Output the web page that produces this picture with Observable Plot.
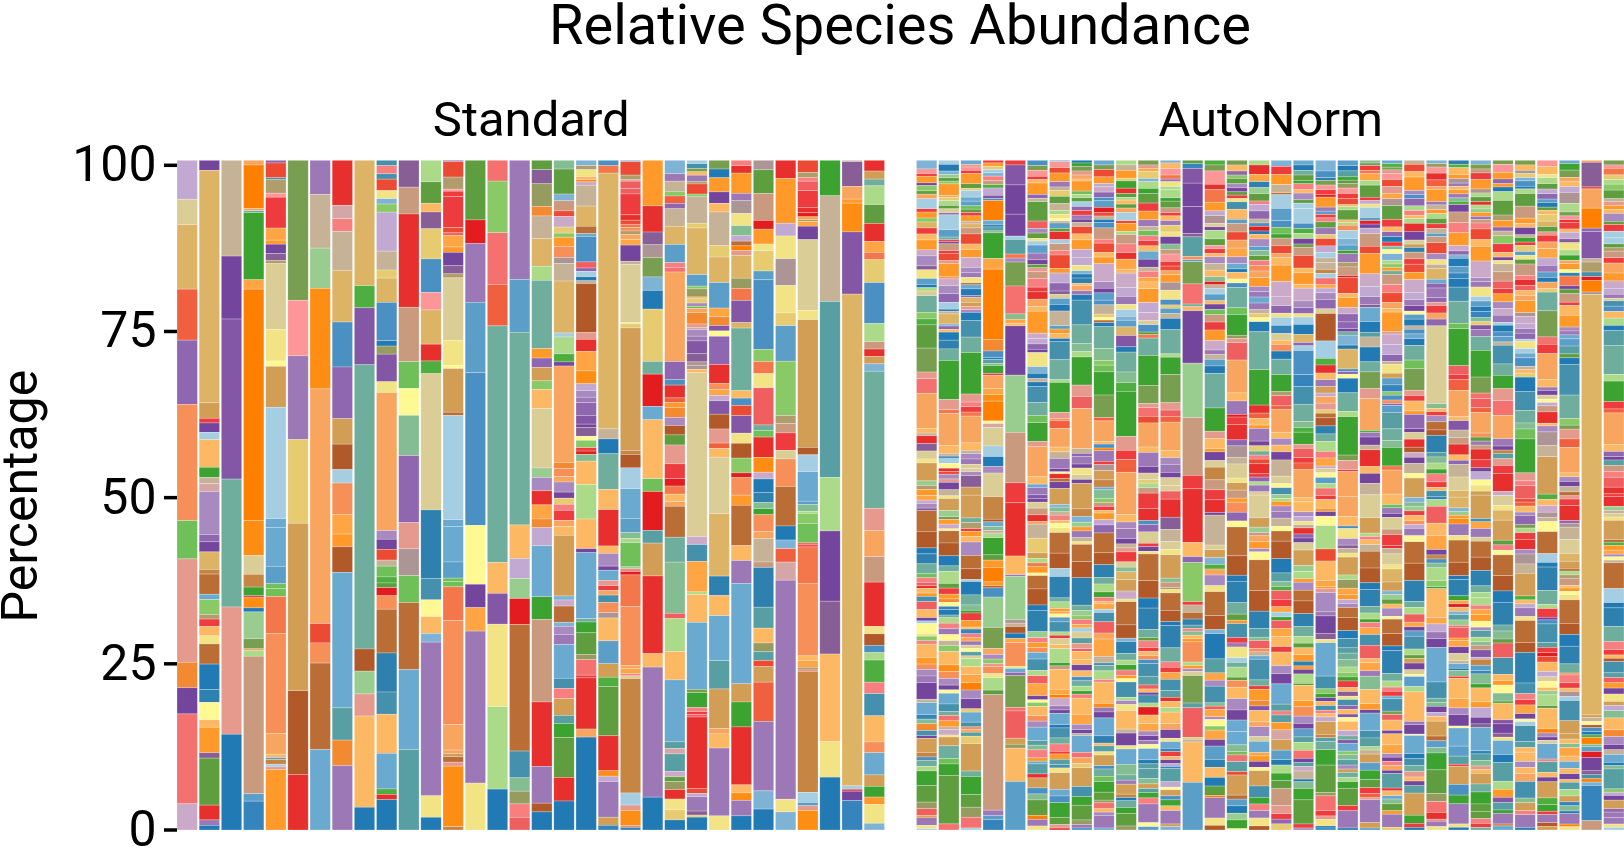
<!DOCTYPE html>
<html>
<head>
<meta charset="utf-8">
<script src="https://cdn.jsdelivr.net/npm/d3@7"></script>
<script src="https://cdn.jsdelivr.net/npm/@observablehq/plot@0.6"></script>
<style>
html,body{margin:0;padding:0;background:#fff;overflow:hidden}
h1{margin:0;height:60px;font:400 56px/50px Roboto,sans-serif;text-align:center;padding-left:176px;box-sizing:border-box;color:#000}
svg{font-family:Roboto,sans-serif;display:block}
</style>
</head>
<body>
<h1>Relative Species Abundance</h1>
<div id="chart"></div>
<script>
const panels = ["Standard", "AutoNorm"];
const species = "abcdefghijklmnopqrstuvwxyzABCDEFGHIJKLMNOPQRSTUVWXYZ0123456789".split("");
const speciesColors = ["#a6cee3","#7fb3d5","#6baad0","#5b9fc9","#4a90c2","#3584bb","#217ab4","#2e80ae","#4590ac","#589fa3","#6fae9d","#85bd93","#99cc8f","#abdb88","#89c966","#70c05a","#4fae40","#3ca230","#5e9e3f","#789e4f","#969c5f","#b09d6c","#c99a7d","#e59a8d","#f4716f","#f87f7f","#fd9696","#f05f5f","#ee3c3e","#e7302d","#e31c1f","#ec4a33","#f0603f","#f4764b","#f78f58","#f8a560","#fdb863","#ffa544","#ff9a2a","#fe8d14","#ff8000","#f38a32","#c1a9d1","#cba9c8","#a98ac0","#9c78b6","#8f66b0","#8357a5","#74459c","#875f96","#ae9595","#c5b297","#dbcd96","#e6cb70","#f2e384","#fff994","#ddb465","#d29e55","#c68543","#ba6e36","#b15928","#d5a6a6"];
const yTicks = [0, 25, 50, 75, 100];

// Each bar reads from its top segment down: species code, then percent.
const standardBars = [
"Q5.8 03.8 49.6 G7.6 U9.6 I17.3 p5.7 x15.4 P3.8 W3.9 y13.4 R3.9",
"W1.5 434.6 52.3 C.7 W1.4 a1.1 K4.1 r1.5 Z.9 91.2 S6.4 U1.1 W1.5 42.6 6.7 73 c.8 o2.2 v.7 C1.1 K1.4 21.2 73 g3.8 h1.9 32.6 K1.1 M3.8 X.8 s7 D2.2 T.8 g.7",
"Z14.3 W9.4 V23.9 k19.1 x19 g14.3",
"J.7 O6.5 J.3 k.3 r10 L1.4 O34.5 N5.2 02.8 61.9 r1.3 C.3 N1.5 g.6 m4 t1.5 J.3 n.8 w20.5 d1.1 f4.3",
"U.4 F2.2 i.3 v2 A.6 C4.6 L1.8 M.6 W1.4 X1 v.5 09.8 24.7 3.8 56.1 a16.6 c1.3 c5.8 d2.6 p.7 p1.2 H5.5 I14.9 J3.1 K.5 d.3 6.7 a.4 x.4 M9",
"t20.9 A8.3 T12.5 112.5 525 812.5 D8.3",
"T5.1 Z8 m6 N15 J35 F2.9 I3 712.9 c12",
"D6.7 92 z1.9 Z5.8 47.7 e6.7 U7.7 53.8 83.8 a2 I4.7 L2.9 M1.9 83.8 c20.2 j4.8 P3.8 T9.6",
"418.7 q3.3 V8.5 k42.4 83.3 m3.4 x3.3 K13.6 g3.4",
"i.8 z1.2 i.8 F1.7 21.2 b.8 o1.2 Q5.8 Z2.8 11.2 43.6 e5.7 g.8 u1.2 V4.1 21.6 J20.5 S1.3 W1.5 F1.6 Z.9 p1.6 q.9 s.7 E1.2 I2 76.5 h5.8 i3.3 K5.8 c5.3 q.8 D.8 g4.5",
"X4 w4 D13.9 w8.1 p4 34 l6 U10 x3.9 Y4 p4 710 c11.9 j12",
"n3.2 s3.2 K1.3 X2.5 14.5 e5 A2.6 45.1 D2.5 q1.9 020.3 h10.2 i3.2 32.5 K2.5 b1.3 T22.9 23.2 g1.9",
"U.2 F2.3 v1.8 A.3 C.8 C4.6 F.8 B.4 L1.7 M.8 W2 X1.2 v.6 09.3 23.7 3.5 56.5 7.5 a15.5 c1 c5.3 d2.4 p.5 p.8 H5 I15.5 J3.8 J.5 5.5 7.8 x.6 N9 6.5",
"s8.9 E3.5 T8.8 d10.5 e22.8 38.8 W3.5 L3.5 T22.7 27",
"y3.1 o7.7 y7.7 G6.2 k35.3 K4.6 V4.6 212.3 n12.3 g6.1",
"T17.8 d7.9 k28.8 K5 Q3 m3 E3.9 718.9 i4 l2 u1.9 z2 B1.9",
"s1.4 X2.1 u3.4 P1.4 Z3.4 44.1 n2.1 k10.2 M1.4 U1.4 52 o1.3 K2.8 08.9 m1.4 S2 D2.1 L2.1 P1.3 Q2.7 c7.6 r3.4 w12.3 D9.6 T5.5 81.3 g2.7",
"l1.3 s3.7 b1 w1.5 F.8 R1.6 1.9 o.6 M1.4 I1.6 Y.9 Z2.6 47.7 a.6 n2.5 q1.2 W.6 J14.3 P.9 I1.2 J.8 S1.5 W.9 1.9 z.9 C1.5 J.9 K1.3 59 b.6 R.9 72.4 b.6 S1.2 T1.5 c5 i1.5 z1.5 52.5 j1.2 r2.1 s5.9 D3.5 g4.3",
"b.8 v.6 21 K.5 O.3 R.5 Z3.1 43 71.1 c.4 e3.8 B.9 U.5 a.8 g.6 Z.4 87.3 x1 D1.8 L2.9 N1.9 Q1 S1 T.8 U1.9 V1.3 W.5 X1.3 3.6 o1.1 C.5 E.5 l1 K3.5 n5.1 K4.4 W.6 c9.8 k.5 r1.6 s3.2 u.8 y2.3 C.4 D7.6 J1.2 g13.8",
"e.8 H1.1 438 Z1.5 g2.2 k5.3 K3 D5.4 K1.1 S1.9 W.6 c1.5 x.8 C.7 J.7 i1.1 I1.5 Y.8 K3.4 d3.4 52 q1.4 s7.3 D5.2 N.8 Q.8 T5.3 51.2 f.7",
"c.2 F2 v.7 x.2 B1.1 B.8 C3.1 D.8 F.6 H.5 I.5 v.5 J.8 L.8 W2.4 Z.5 08.6 2.2 1.6 518.2 6.6 82 a3.1 c4.4 d2.1 l.9 n.6 p3.6 m.3 z.4 E.5 H4.7 I8.8 J.4 L.8 z.3 0.4 617 a1.8 x.8 N2.2 I.3 f.4",
"M6.8 D3.9 X1.9 Y1.9 t2.9 b2 g2.8 17.8 k1.9 E4.8 c2 K8.8 p1.9 E5.8 j1.9 54.9 D11.6 K2 T19.4 g4.9",
"b2 T1.1 Z1.5 o.7 G1.1 U.8 Z2.6 42.7 d2.7 z.7 y.7 J13.3 U2.7 e.8 D1.9 G.7 M.7 P1.5 S1.2 81.4 s1.5 x2.8 C2.2 E1.1 H1.2 K1.1 J.7 74.6 k3.7 l7.6 B.8 n4.9 K4.2 c9.2 j1 9.8 j2.6 R.8 s.7 u1.2 D1.4 21.6 11.5 g1.5",
"a.5 i.7 t.5 K.5 T.9 v.4 F1.5 o.4 Z3.9 1.7 46.9 d1.7 o.4 u1.2 K.3 1.6 S.5 p.3 J.6 P1.7 x.5 9.3 S1 T.7 V1.9 X1.2 Y.5 Y.6 K.5 024.2 R1.2 i2.5 L4.5 n.4 K4.1 c9.9 t.5 r2.2 z.6 C.4 B.4 D10.6 F.7 Q.5 T2.1 X.6 1.3 g1.9",
"t1.3 g1.3 M2.1 W1.7 K1.3 Z5 11.7 43.8 d3.8 L1.3 P1.3 V.8 3.8 U4.2 D2.8 I.9 L.9 Q.8 V2 82.2 x2.1 G.8 K1.3 08.4 49.3 h2.9 K3 c6.7 j4.2 55.9 J.8 K2.1 T10.1 22.1",
"z.8 D1.1 M3 T1.1 Y1.9 21.8 l1.5 Q.8 7.7 O.7 x.7 43.4 u1.5 H1.8 V3.3 4.8 k9.3 K1.1 e1.1 F1.5 V2.6 21.5 82.2 o2.2 E.7 I2.6 M1.5 76 K2.2 T3.4 c14.9 52.7 r3.7 D8.6 K1.2 N1.1 T2.3 g2.1",
"Y1.4 s3.5 w4 E1.3 M2.2 21 13 d1.3 e10.3 o1.8 H1.8 22.1 B5.5 k.8 p1 D3 N2.2 R1 g2 h1.5 l.9 r.9 I2.5 J1 Z3.5 w.8 h5.9 j3.1 K2.2 u1.3 j1.3 F.9 52.3 G5.8 T10.3 b2.7 g3.1",
"D2.7 M6.7 Q1.9 23.4 Y4 24.1 11.9 d5.3 o8.1 v1.2 w1.4 C2.6 01.3 I4.1 75.9 g2.1 b1.3 G2 92.7 T32.7 21.9 b2.7",
"F1.8 v.8 z.5 B1.4 C2.5 D.8 E.6 L.4 v.3 L.7 W2 010.5 21.4 519 81.1 a2.5 c4.4 d.5 l1 n.3 o1.5 p2.9 B.3 C.3 H5.4 I10.8 K.7 L1 v.4 z.2 618 a1.5 d.5 x.7 N2.9",
"r5.3 Z15.8 j26.3 n8 W10.5 X7.9 K13.1 25.3 g7.9",
"Z.2 X3.7 J1.9 M.6 N4.3 V9.3 473.5 a.5 C.3 W1.4 f4.4",
"D1.6 51.2 k1 n2.8 s2.8 D2.7 L1.6 H1.1 13.4 e6.1 n2.7 w1.1 D1.1 51.1 b1.1 k20.4 x3.3 J3.9 w3.8 D6.6 21.1 81.7 e1.1 n1.1 q3.3 z1.7 i3.3 K3.9 I1.6 c3.3 51.7 r1.6 M1.1 22.8 b1"
];

const autoNormBars = [
"b1.3 A.7 C.4 M1 W.4 o.8 s.5 J.7 a1.5 C.5 M.9 o.6 4.9 C.9 K.9 M1.5 R.9 S1.5 X.6 21.3 d.9 g.5 n.5 0.7 k2.5 o1 q.9 s3.5 t3.6 x1 y2.2 J5.3 K.7 Z.4 D1.2 X1.1 01.2 2.6 52.7 m.7 v.6 M.9 L.7 R.5 S.7 X.4 73.1 82.5 g.9 h1.5 k1.5 p.6 z.7 B.5 D.4 K.7 M.5 i.8 B1.2 K1.2 W.5 a.4 31.5 2.4 o.7 z.5 K2 M1 I.8 S1 T1 W2.5 Z.5 c1.8 f.7 l.7 P1 i.8 W.4 52.1 6.7 e.5 k.9 n.7 r2.2 s2.5 u1 B1 M.3 T1.2 2.5 a.2",
"a.6 g1 b.5 m.5 s.5 o.4 M1.7 J.3 1.5 n.7 s.5 0.6 U.3 a2.2 d1.1 k.4 C.3 W.3 w1 C.4 F1.1 x.4 M2 I.3 R1 S1.2 U1.3 a1 g.3 Z.4 41.5 b.3 U.5 K.4 g1.2 h1.3 k1.7 r5.8 x1.5 H.6 J4.7 K1.2 Z.4 e.4 a.7 3.7 D.5 F.4 S.7 x.5 W1.1 Z.9 2.4 51.8 m.9 t.4 M.7 R.7 3.3 71.8 81.9 g1.5 k.8 n1.8 s.7 C.9 M.7 P.5 3.6 f.5 g.8 k.4 n.8 z.8 T.9 3.9 Z.7 o.9 K2 N1 I1 S1 W.7 3.5 c1.6 i1.1 k.6 y.8 M.9 Z.4 R.8 2.3 51.3 k1.9 p.8 r1.7 s7.2 y.9",
"c.6 x.4 A.5 C.5 M1.5 s.7 1.3 a1 c.6 d.7 p.5 s.5 C.5 M.8 Z.4 4.6 w.9 F1.5 K.8 M1.2 R1.5 S.8 T.7 2.8 7.3 c.6 g1 U.3 4.7 5.6 x.5 S.4 g1.2 i2.5 k2.3 r6.2 x1.2 z.7 C.8 H.6 J4 K1.1 Z.5 S.8 T.8 0.6 0.5 S.6 X1.7 51.2 53.4 k.7 v.9 C.4 M.8 K.8 S2 72 81.6 a.3 g2 k1.5 l.8 r.4 C1.1 M1 K.3 f.7 z.6 L.5 T.6 0.5 3.5 j.6 0.4 n1.2 K1.2 L1.2 O1.1 S1.3 W1.5 1.5 c1.5 i.7 I.4 J.4 j.6 11.1 54.1 k.8 r2.7 s1.9 u1.5 y1.6 a.3",
"C.4 M.5 1.5 a.5 b.5 z.7 w.6 q.5 Q1.1 V.5 e.3 O3 c.7 g.3 j.6 l.3 r3.9 L1.6 O10.7 P1.7 e1 g.3 j.6 l.3 r1.2 C.3 J2 L.9 N1 O3 3.4 9.6 02.8 a1.6 g1.5 S1 03.6 63.4 8.4 c.7 l.6 9.4 n.7 r2.6 s.8 M1.1 O2.2 M.6 8.3 e1.4 m4.6 t3.2 J.9 S.7 o.7 x.4 I1.1 2.6 n1.9 s.7 w17.5 T.8 d.6 f1.6",
"C.7 V3 W4.4 W3.3 a.5 j2.2 H.6 S.6 t3.6 y4.2 l.8 L.6 K.4 W7.4 m8.6 w7.6 C3 D8 K2.8 T.3 m6.5 Y.5 Z.5 81 g.8 L.6 I3.6 2.3 c.6 U.5 t4.8 y.5 B4.1 5.9 u.6 K5 d7.3",
"e.8 t.7 A.9 C.5 K.5 M1.7 U.6 Z.5 s2.9 B1.1 S.7 s.8 2.4 a.6 d1.2 T1 W.7 s.5 x.6 w1 z1.3 C.7 D1.1 J1.1 K.7 M3.3 R.8 Q.8 U.8 W.5 22.1 b1 g.8 Z.5 g.7 i2.4 k1.9 p1.1 r2.8 x.8 J4.5 K1.1 c.5 T1.1 V.6 W.5 0.9 w1 D1 J.4 Z2.1 12.2 5.8 n.7 H.5 M1 3.4 72 82.4 g.8 h3.2 m.9 z.7 M.8 I.7 c1 i1.7 n.8 B1.2 L1.8 W.6 3.4 o.6 K1.4 I.8 S.9 c2 j.7 l.7 z1.2 M.5 c.4 j1.5 D.6 51.5 e.9 l.9 s2.3 O.6 T1 2.6",
"c.2 A.9 F.8 M1.3 T.8 Z.5 1.9 s1.1 Z1 n.6 2.6 3.4 Z.3 d.8 s.5 D1.2 a.6 w1 z.7 F2 M.7 Q1.5 U1.2 X.5 0.6 d.9 g1 Z2.2 d.5 M.7 K.7 g.5 i2.7 k3 n.4 r4.5 x.9 I.3 G1.2 J2.8 K.7 Z1 T1.5 W.5 3.3 D.7 7.5 W1 52.4 b.4 l.7 Z.5 z.8 K.4 3.7 2.7 73.1 82.3 a1.2 h3.2 k.6 n1 M.4 L.4 3.5 d.7 i1.5 n.5 C.5 0.9 K.6 n2.1 r.5 w.5 K3 L.8 O.5 R1.2 T.6 W.5 c1.7 g.5 i1.5 k.9 z1.1 C.4 M.8 j.8 i.5 2.7 52.5 c1 e1 r2.2 s1.1 x.5 C.3",
"g.4 r.5 t.7 x.6 J.6 K.3 M1.5 p.5 n.5 s.6 a.7 U.6 C.7 T.6 W.5 Z.6 F1.1 K.9 M1.4 Q1.2 Q1.2 2.8 b.5 g.6 h.8 K.3 J.8 T.6 g.8 i3.7 k2.8 l1.2 n.8 r4.2 x1.7 B1.8 J6 Z.7 U.5 T1.1 W.6 21 0.7 W.6 53.8 61.1 b.9 m.7 M.6 T1 Z.6 2.4 72.6 82.4 h4.1 k.8 m.8 o.5 z.8 L.5 a.6 0.9 j.8 x.8 B.4 K1.2 K.8 W.9 K.9 e.6 k.8 n.7 r.5 z.6 K2.4 L1.5 S.8 W.6 Z.3 c2.5 y.8 J.9 1.6 52.8 i1.5 r1.3 s2.2 u.7 T.5 e.3",
"c.7 t.7 F1.1 M1 Q.5 R.8 U.8 e.5 d1 E.8 F.5 Z.5 g.5 e.8 w1.7 z.6 F1.4 K.7 M1 R2.7 S1 W.7 d1.1 e.7 Z1.4 1.5 3.4 7.4 g.6 k3.3 l1.8 o.7 p1 r3.5 t3.4 G.5 J3.1 K.4 e.6 O.4 T1.6 C.5 Y.9 51.4 61.1 c.4 l1.3 o.6 w.6 C.6 K.4 M1 Q.8 U1.2 73 81.8 h1.9 k1 n1.2 r.8 z.6 K.4 L.8 a.5 i1.4 B1.7 J.9 L2.6 Z1 i.4 k.8 n1.3 z.4 K3.2 N.6 T.7 W.9 c2.7 h1.1 K.4 j.9 2.5 51.6 e.5 k1.1 p.8 r1.6 s1.2 u.4 y.9 K.5 S.5 T1.9 c.3",
"n.7 Z.8 M1.2 1.4 r1.1 D.8 s.6 n.4 K.6 s.6 J.7 a1.2 F.4 M1.2 n.5 w1.4 z1.3 D1 L1.5 K.6 R2.2 Q1.3 T1.2 2.8 a1 b.6 d1 41.3 V1.7 g.8 k3 l1.6 q1.3 r6.8 x2.1 C1.4 G1.9 J6.4 K1.1 S1 T1.5 W.8 Z.6 x.6 C1.5 0.8 l.7 41.2 51.7 R1.2 2.4 73.5 82 b.5 h1.8 k1 n.7 r.8 z.8 M.5 3.5 i2.3 n.5 S.6 2.9 K2.8 Z.6 W1.9 2.5 c2.3 l1.6 k.8 T.6 51.5 6.5 g.5 k1 r.9 s1.9 u.6",
"t.7 x.5 L.5 11 b.5 n1 r.8 s1.4 C1.2 M1.3 T1 Z.6 p.8 z.7 C.8 K.8 c1.2 W1.2 Z.6 z.9 L.7 K1 M2.1 Q1.5 R1.2 0.6 e1.1 s.4 H.5 k2.6 r4.5 t2.7 x.6 y1.3 F1 J3.6 K.8 T2.1 W1 01 1.5 n.7 w.8 C2.3 D1.8 e.6 U1.1 01.7 C.5 W.7 2.4 74 82.6 g1.5 h3.2 k1.2 s.5 z1 C.6 K.6 I.6 e.6 i1.9 j1.3 B.6 K.5 W.4 i1.2 n.6 E1.2 K1.3 L1.1 S.7 W.7 T.6 3.6 c1.7 g.6 j.7 j1.5 l.8 5.7 j.6 r.8 z.9 T2.8 3.6 d.5",
"b.4 K.8 A1 H.6 T.4 2.7 n.5 n1.2 r.5 s1 w.7 C.5 K.7 T.7 11 2.7 W1.1 l.8 w.7 A1.1 C.7 F.7 J.6 M1.1 Y1.2 21.4 e.8 1.5 d.8 Z.7 g1.7 k3.6 n.5 r2.6 t4.2 x1.1 B1 G.8 J4.2 K1.1 S1 T1.2 W.8 01.2 0.8 B1.2 D2.7 X1.8 Z1.8 01.2 2.8 53.5 l.6 w.8 v.3 2.5 72.6 81.7 g.6 h3.3 k2.1 z.8 C.8 L1 i1.7 j1 D.6 K.9 n.7 K1.7 J.9 W1.3 2.5 c1 f.5 C.7 K.5 W.6 Q.4 f.3 j2 Q.8 3.4 5.9 e.6 r.9 K.7 T2 5.4 b.5",
"s.5 f.7 V2.2 W3.5 W4 X.5 j2.9 I.5 d.3 t3.3 y3 k.4 K.6 W7.8 m8.1 w8.6 C2 D8 K2.1 U.9 o5.8 C.5 Z1.1 71 h.9 j.5 z.4 l.6 K.5 M.5 I3 n.5 M.5 S.4 0.6 t4.1 j.7 B4.4 1.3 Z.4 K6 d7.1",
"q.7 t.9 A2 D.8 H1.9 M1.3 Q.7 Y1.2 0.5 W.5 n1.3 s1 A.5 C.7 K.5 S1 Z1 K1 l.7 E.5 Z.6 a.8 d1 K.5 W.8 p.8 w1.1 C1.2 M1.6 R1.4 T.7 Z.7 d1 g1.1 k5.2 r3.5 x1.1 K1.5 M.5 W1.3 01 61.9 w1.5 C1.5 D1.9 W.4 Z4.5 0.7 51.2 b1 q.7 J.9 S1.6 2.9 73.6 82.1 b.6 g3.8 j2.1 L1.1 S.9 i2.5 l.5 B.5 L1.1 S.4 31 o.6 L1.4 W1 d2 h1.2 K1.5 g1.3 s1.4 O.3 T3.1 21.1 8.7",
"t.7 K.9 U.6 o.5 s.8 S.6 W.6 s.5 C.5 2.5 i1.1 K1.5 d.6 w1.3 F1.2 J1.2 L1.3 S1 c.8 g.5 K1 3.6 e.7 k3 p1 r3.1 u.5 x.6 B2.6 J4.9 K1.2 T2 E.4 C1.1 D2.3 U.9 Y1.7 Z1 02.1 2.7 51.1 w1.2 M.6 I1.5 U1.3 3.9 74.3 82.9 g.9 h3.2 k1.7 s.9 M.5 i2.1 C.8 T.6 21.6 a.7 k.7 n1.5 s.5 I1 K1.7 S1.7 W1.5 c1.7 c2 l1 p.5 y1 j1.5 F.5 53 7.6 d1 g1.1 m1 r1.3 3.2",
"n.7 D1.4 L1.1 h.9 m.9 s1.1 z.5 Q1 U1.2 Z.6 e.5 E.7 g.5 K.7 S1.1 d.6 l.8 s.7 z.8 I.8 J1 M1.3 S.8 T.8 c.9 T1 Z.6 1.6 3.6 g1.5 k5.7 r5.3 D1.2 G.8 K1 M.5 T1.9 W.7 1.8 k.6 z.6 F.7 D1.5 C.5 U.7 n.5 T1 0.5 03.4 51.4 m.8 w.5 J.9 M1 S.5 31.2 74.6 83.1 h2.6 j1.3 l.5 B1.2 I.5 Z.6 c.5 i3.1 k.9 C.5 M1.7 P.8 V.7 K1.7 J.7 S1.5 0.7 c1.7 L.5 M.8 W.9 3.5 52.3 i1.7 r1 z1 T1.1 21.2 8.6",
"b.9 C1.2 M1.5 Z1.2 7.3 a2 d1.8 e1 p1 r.6 w1.1 F1.2 J.6 K1.1 M2.4 R2.2 R1.4 U1.1 2.6 a1.2 f1.2 01 K.6 I1 g1.2 k2.3 r2.5 v.6 B1.5 G.5 J3.4 K.9 S1 K1 W1.2 Z2.4 01.1 3.6 i1 m.6 n.4 M.7 S.8 T1 Z1.2 3.7 71.5 82.6 g2.1 j1.3 l.7 q.6 B1.3 C1.1 L.8 a.7 r.5 B1.2 L1.2 K1.5 C.8 K2 S1.2 W1.5 c3 j1 z.6 j1.1 M1.1 91.4 51.6 d1.4 g.8 n1.2 r1.1 s1.2 w2.5 x1.2 C.8 U.7 1.9",
"c.7 g.8 k.7 s.8 r.5 z.9 K.5 S1 s.5 a.8 a2.2 e.8 q.7 n.8 W.8 t.5 w1.2 F1.9 K.7 M1.7 K.6 R1.9 S1 U.9 2.5 a1.1 g1.5 41.2 U.5 a.7 e3.6 f1.8 i2.7 k2.5 l.9 q.7 r1.8 x.6 B1.4 C.8 G1 J4.2 K.6 K1.5 S.7 Q.7 2.5 Z.5 D.9 U.6 W.7 01.1 52.3 m.9 n1.1 M.5 S1.2 71.6 81.9 h1.9 k1.5 n1 s.7 K1 M1 h.7 M.5 W.7 n1.4 s.3 K2.3 M.9 I1.4 S1.1 W.8 d1.2 j.8 n1.2 y1.2 W.6 j.6 R.7 Z1.2 g.4 l1 r1.7 s3.6 C.6 S.3",
"b1.6 e1 h.4 t.7 A.7 C.7 E.4 M1.5 T.6 d.5 C.5 z.6 s.9 T1 1.6 F1.1 Q1 a.8 Z.7 Z1 6.6 a.7 y1 L.5 Q.7 S1 U1.4 0.7 84.1 a2.6 q1 D1.2 K1 T1 51 Q.5 J1 x1 1.5 7.7 81.2 h1.2 k1.1 n1.5 z1 L1.2 R.4 0.6 3.7 d.9 n.7 y1.1 C.6 K1.3 M.5 W.7 31.4 n3.5 F1.8 K2.9 L.9 M.3 x.6 S2.9 T.6 W2.6 X.9 2.5 c5 i1.9 o.7 r.6 W.6 K.6 i.7 z.5 K.5 Q.7 51.9 6.5 j.6 k1.2 r2.3 s4.1 u.5 y2.2 C.8 x.5 21 g.3 f.3",
"d.8 g.8 j.9 r.5 s.5 u.7 A.8 C.8 F.9 K.3 n.5 s1.5 K.4 n.4 I.8 a1.2 b1 d.8 r.5 T1.3 v.7 w1.3 E.3 F2.4 K.6 M1.5 R1 U1.2 U1 W.5 k.5 b1.5 g.6 43 e.4 U.4 3.6 g2.2 k2.8 n.8 r5.8 t.8 x1.4 C.3 J3.8 J3 K1.4 e.4 21.5 S1 X.5 Z.7 2.6 52.7 n.7 u1.3 L1 M.7 Q.6 S.6 71.5 82 g1.2 i1.4 j.8 k1 l1.1 n.8 o.7 r.6 C1 K.6 X.7 2.5 i.9 U.6 K.7 V.5 3.6 K1.4 Q.8 k.6 V.5 c1.2 o.5 l.8 j.8 S.6 5.5 k.8 n.6 r1 s2.6 C.8 T2.6 g.3",
"l.4 t.4 C.7 H.5 L1 n.7 s1.8 C.5 Q.5 2.5 a1.5 d.5 E.5 W.6 Q.8 w1.9 F1.1 M3 R1.9 Q1.5 T1.2 X.4 c2.1 g1.6 j.7 Z1.5 g2.2 k1.5 t2.5 x1.5 J4.7 q.3 T.7 W1.2 Z.7 D2.5 K1 W1.5 Z1.7 03.4 52.3 n.5 z.5 K.7 Z1 72.5 82.2 g1 h2.5 k1 n.9 r.5 z.8 L1 i1.6 B2 K.6 L1.2 T.8 l2 K2.1 M.9 W.5 c2.6 i1.1 j1.3 n.5 Z.6 51.3 d1.1 r1.4 s1.2 C.9 G.6 x.3 T3.4 5.8 d.3",
"c.5 q.5 t.4 x.5 A.9 F1 x1 L.8 Y1 s2 C1.1 K.7 U.7 g.8 C.6 l.5 3.6 b1 n.5 o.5 M.5 k.5 w1.5 z1.2 F1.4 J.9 K.5 M2.8 x.4 R1.5 Q1.5 U1 Z.4 21.3 5.7 d1 f1 o.5 e.7 I.5 U.3 d1 j2.4 k1.7 l1 r2.7 H.6 J3.5 K1.5 p.5 T.8 W.6 01.7 w.8 C1.6 D.4 Z.8 01.6 2.6 41.9 51.3 b.5 m.7 s.7 K.6 S1.2 3.4 72.1 81.8 g.7 h3.3 k1.1 n.9 z.6 C.7 c.4 i1.8 t.5 B.8 K1.5 W.5 K1.6 L1.3 S.5 W.6 z.6 J.7 W.5 j2.1 D.4 K.7 c.5 l.7 s1 M.5 T1.9 1.4",
"Z.6 F1.1 K.8 M2 S.6 e.6 U1.1 n.7 z.7 K.5 n.7 D1.2 W1.3 0.6 5.5 h.7 w1 C.8 F1.2 M1.1 R1.9 Q1.1 T.9 W.8 3.5 d.7 g1 Z.5 e.7 c.7 g1 k2.2 p1.3 t3.2 x.8 C.8 K1.5 M.5 U2.1 W.6 01 D1.2 8.8 R.7 W.9 Z1.5 3.7 52.9 b.7 l.6 m.7 C.7 K.8 I.5 Q.6 T1.1 3.9 73.2 82.6 h3.1 k.9 n1 B1.2 L.7 W.6 d.8 i1.9 n.9 s.5 5.7 W1 0.7 3.3 d1.5 n.8 K4.4 T.5 W1.4 3.2 c2.7 g.7 i1.1 k.9 x.8 K.6 W.7 j1.1 53.3 r1.2 C.6 g.4",
"b.5 u.5 A.9 D1 G1 J.4 M1.8 T.5 Z.7 M.6 n.7 s.8 C.7 Z.7 d.5 w.9 F1.6 S.9 2.7 Z.6 41.6 c.6 U.7 T1.4 U.7 x.5 C1.1 J.9 U1 011.5 l.7 K.5 C.6 S.9 71.2 8.8 h2.5 j.7 l.9 n.9 r.7 z1.2 C.8 K.5 i.9 h.4 n1 B2.5 K1.8 L2.1 W.8 6.6 e.6 l.7 n1.9 o.9 r.3 K4.3 L.9 Q1.2 T1 W1.3 c5.1 i2.4 k.6 l.6 W.9 Q.6 K.7 52.2 7.7 d1 l.8 r2.5 s3.5 u1.2 y1.6 D1 z.3 T.8 2.5",
"h.6 q.5 K1 M.6 Y.7 T.5 K.5 M.6 T.6 l.5 q.5 W1.1 w1.6 z1.5 M1.9 R.8 U.6 b.5 g1.2 d1 f.8 g1.3 i2.1 k3.3 p.8 r5.5 B1.3 C.8 G1.6 J3.9 K.6 V1.4 Z1.1 w1 D1.6 K.8 U.6 Z1.9 02 41 41.6 b.5 m.6 M.5 N.8 T1.7 2.7 73.3 82 g.6 h2.4 r.7 L.5 E.5 K.6 b.5 j.8 m.8 y.3 B1.6 M.4 L.9 W1 01.1 Z.4 c.7 g.3 l.9 C.3 K3 L1.4 S1 W1.7 3.3 c2.7 d1.5 j1.2 C.3 52.7 e1.6 r1.3 T3 2.5 g.4",
"b.6 t.7 w.6 C1 M1.4 Y.6 n.6 s.7 D.5 n.6 m.5 M.6 T.5 w.5 z.9 F1.6 K1 M2.2 R2.5 S.6 T.8 21.4 a.7 d.8 g.8 f.9 l.6 1.5 V.7 T1 k2.1 r4 t2.4 y.8 B1.4 G.7 J3.1 I.6 s.6 T.6 w.6 D1.6 C1.2 W.6 Q1.2 3.8 2.9 5.6 53.5 i.5 L1 T1.3 0.6 72.4 82 h2.3 k1 n.8 n1.1 z.6 L.8 M1 3.9 S.5 j1 n.7 l.5 w.7 V1.1 Q.3 6.9 d.8 f.5 l1.5 r.6 K2.1 M.8 Q1.5 W1 X.5 c3.5 f.5 j1 l.8 x.5 K.6 51.6 k1.2 r1.8 s1.1 s1.1 z.7 C.6 k.4",
"t.6 A1.2 M1 U.7 M.5 g.7 n1.3 s2.2 v.8 M1 U.6 Z.7 o1.2 C1.3 K.7 W.5 2.5 Z1.2 w1.4 B1.1 C.8 M1.2 S1 R1 T1.1 a.4 g1 e.7 d.8 Z.5 i2.8 k1.7 r2 x1.8 y2.2 J3.5 T1.1 W.6 6.5 j.8 x1 C1.2 D2.7 R.6 01.5 2.7 41.5 53 s.7 z.8 3.7 73.1 82.3 g1.7 h3.4 k.9 l1.2 s.6 B2.2 i2.5 K.9 M.7 31.2 l1.2 r.3 K2.5 V.6 W1.4 X.6 2.5 c2.1 g1.2 j2.8 n1.2 M1.2 V.8 j1.1 r.5 T1.6 6.3 c.6",
"t.7 K.8 Y.5 1.6 b.5 e.8 g.4 n.7 s1.9 w1.8 M.8 K.6 W1.1 Z.4 r.7 C.5 1.9 d.6 2.6 s.7 w1.7 z.6 D.9 B.8 K.7 J.8 M1.8 Y.6 R1 Q.8 T.7 U.9 a.3 21.1 a.7 c.7 e1.3 Z.5 K.5 1.6 g2.2 i2.8 k1.9 l.9 p1.5 r5.1 x1.2 z.7 B2 F.5 G.6 K.9 S.5 U1.4 t.5 n.7 C1 D1.5 S.7 Y1.5 Z1.4 53.4 q.6 K.6 Q.6 T1.3 2.6 73.3 81.5 h4.6 i1.6 z.9 C.8 L1.3 W.8 3.4 a.6 i2.4 j.9 K.7 K1.4 S.9 K.9 J1.2 i2.5 l.7 51.2 z.6 T1.9 h.4",
"A.9 K1.2 2.5 n.9 s.8 Q.7 U.8 d.5 g.7 s.5 K.6 11 4.8 s.8 x.5 C1 J1 L1.4 Q1.1 T1 d.8 g.7 J1 1.5 k2.8 t3.9 y1.1 C1.4 J3.9 K1.1 T.5 W.7 0.6 3.5 Q.5 w.9 D1.7 K.4 S.9 Y2 Z1.7 55.6 q.8 K.9 R1 Y.8 Z.6 31.5 73.3 a1.3 g.7 h3.5 k2.1 n.6 C1.3 W.4 e.6 i2.8 j.7 C.8 E.6 F.8 K1.4 Q.8 0.7 3.9 K.5 m.6 n1.6 s.4 K3.1 O.6 S.6 W.5 0.5 c2.3 z.4 j1.6 K.7 W.7 52.4 q1 r1 C.5 T1.2 8.6 5.5",
"c.5 r1 t1.1 J.6 K.8 Q.9 Y1.7 n1.3 t.6 A.6 D.4 C1 K.5 Q1 X.6 21.1 n.8 r.8 J.5 M.9 3.5 h.5 H1.5 W.5 s.7 w1.3 C.5 K1.5 M1.8 S.6 T.6 c.6 d1.1 j1.2 s.6 g1 i4.7 k3.6 o1 t.6 x1.5 G1.3 J3.9 K.6 S.7 W.8 Z.8 7.6 x.5 C1 D2.3 U.4 Y.6 Z1.9 02.1 41.2 51.2 8.3 n.6 v.5 w1.1 K.4 M.5 3.5 2.8 73.6 81.7 g1.8 h2.7 k1.4 I.3 z1.2 C.8 K.5 Y.8 a.6 i3.1 52 5.8 K.7 l.6 L1.3 K.8 c1.1 K.8 W.9 K.4 j1.1 n1 5.9 f.6 l.8 g.4 T1.6 O.4 2.5",
"J.3 X3.7 C.3 J2.9 O3 U.5 V4.1 Z.5 v1.5 i.7 E.6 O1.7 Y.4 463.2 5.4 Z.6 3.5 8.4 e.6 g.5 q.4 O1 l.4 d.7 E.9 W2 X.6 i.6 O.5 b.5 f5.3 w1.4",
"t.7 A.5 H1 1.7 n.7 o.9 s1.3 Z.4 x.6 M.6 K.6 S1.2 s.5 C1 a1 a.9 s.6 v.5 w1 C.8 J1.5 M1.2 R1.1 Q.9 T.6 0.4 i.8 e.8 K1 n1.1 g.8 j2.2 k4.4 n1 r3.1 C1.1 G.6 J4.8 K1 U.8 W.5 j.8 w.9 z.9 B1.5 D1 C.4 D1.5 m.6 Z.5 0.5 2.5 52.9 7.4 q.5 M.7 L.6 S.4 3.5 Z.4 73.9 a2.1 g.8 h2.8 k2.3 z1.2 C.8 K.5 8.5 i1.7 j.7 B.8 M.8 W.9 21.1 5.6 Q.8 l1.1 K1.8 P1 S1.2 W.8 Z.7 c1.2 g.5 l.5 j3 o.5 Q.5 W.7 51.3 U.5 T.8 T1 2.5 a.4"
];

const barTop = 100.45, barBottom = -0.3;
const rows = [];
panels.forEach((panel, p) => {
  (p === 0 ? standardBars : autoNormBars).forEach((bar, i) => {
    const parts = bar.split(" ").map(t => ({code: t[0], value: parseFloat(t.slice(1)) || 0}));
    const total = d3.sum(parts, d => d.value);
    let run = total;
    for (const {code, value} of parts) {
      const high = run;
      run -= value;
      rows.push({
        panel, bar: i, species: code,
        top: barBottom + (high / total) * (barTop - barBottom),
        low: barBottom + (run / total) * (barTop - barBottom)
      });
    }
  });
});

const chart = Plot.plot({
  width: 1624,
  height: 788,
  marginLeft: 177,
  marginRight: 0,
  marginTop: 103.3,
  marginBottom: 20,
  style: {background: "#fff", fontFamily: "Roboto, sans-serif"},
  fx: {domain: panels, paddingInner: 0.0432, paddingOuter: 0, label: null, round: false},
  x: {domain: d3.range(32), paddingInner: 0.08, paddingOuter: 0, axis: null, round: false},
  y: {domain: [0, 100]},
  color: {type: "ordinal", domain: species, range: speciesColors},
  marks: [
    Plot.barY(rows, {x: "bar", fx: "panel", y1: "low", y2: "top", fill: "species", stroke: "#fff", strokeOpacity: 0.4, strokeWidth: 0.6}),
    Plot.axisFx({anchor: "top", label: null, tickSize: 0, tickPadding: 28, fontSize: 49, fill: "#000"}),
    Plot.axisY({ticks: yTicks, tickSize: 13, tickPadding: 8, strokeWidth: 3.5, stroke: "#000", fill: "#000", fontSize: 50, dy: 1.5, label: "Percentage", labelAnchor: "center", labelArrow: "none", labelOffset: 176})
  ]
});
document.getElementById("chart").append(chart);
</script>
</body>
</html>
